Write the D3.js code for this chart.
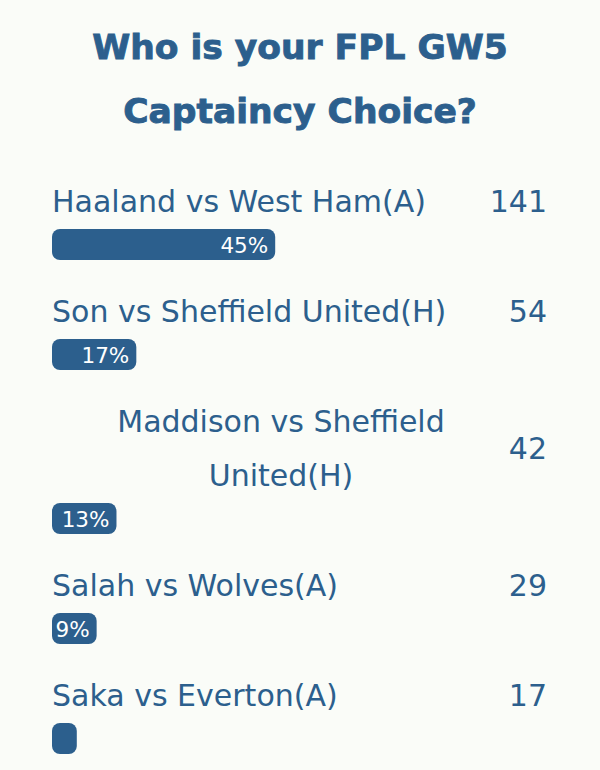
<!DOCTYPE html>
<html><head><meta charset="utf-8">
<script src="https://cdn.jsdelivr.net/npm/d3@7"></script>
<style>
body{margin:0;background:#fafcf8}
text{font-family:"DejaVu Sans","Open Sans",sans-serif;fill:#2c5f8d}
</style>
</head><body><svg id="chart" width="600" height="770"></svg>
<script>
// poll data
var titleLines = ["Who is your FPL GW5", "Captaincy Choice?"];
var options = ["Haaland vs West Ham(A)", "Son vs Sheffield United(H)", "Maddison vs Sheffield United(H)", "Salah vs Wolves(A)", "Saka vs Everton(A)"];
var votes = [141, 54, 42, 29, 17];
var percents = [45, 17, 13, 9, 5];

var colour = "#2c5f8d";
var left = 52, right = 547, labelWidth = 458;
var lineH = 54, rowPitch = 110, barH = 31;

var svg = d3.select("#chart");

svg.selectAll("text.title")
  .data(titleLines)
  .enter().append("text")
  .attr("class", "title")
  .attr("x", 300)
  .attr("y", function(d, i) { return 59 + i * 64; })
  .attr("text-anchor", "middle")
  .attr("font-size", 34.5)
  .attr("font-weight", 700)
  .style("stroke", colour)
  .style("stroke-width", 0.9)
  .text(function(d) { return d; });

var x = d3.scaleLinear().domain([0, 100]).range([0, right - left + 1]);

// split a label into lines that fit the label column
function wrap(str) {
  var probe = svg.append("text").attr("font-size", 30).attr("y", -200);
  var words = str.split(" "), lines = [], cur = "";
  words.forEach(function(w) {
    var test = cur ? cur + " " + w : w;
    probe.text(test);
    if (probe.node().getComputedTextLength() > labelWidth && cur) {
      lines.push(cur);
      cur = w;
    } else cur = test;
  });
  lines.push(cur);
  probe.remove();
  return lines;
}

var y = 212;
options.forEach(function(opt, i) {
  var lines = wrap(opt);
  var g = svg.append("g");
  var multi = lines.length > 1;

  g.selectAll("text.label")
    .data(lines)
    .enter().append("text")
    .attr("class", "label")
    .attr("x", multi ? left + labelWidth / 2 : left)
    .attr("y", function(d, j) { return y + j * lineH; })
    .attr("text-anchor", multi ? "middle" : "start")
    .attr("font-size", 30)
    .text(function(d) { return d; });

  g.append("text")
    .attr("x", right)
    .attr("y", y + (lines.length - 1) * lineH / 2)
    .attr("text-anchor", "end")
    .attr("font-size", 30)
    .text(votes[i]);

  var barTop = y + (lines.length - 1) * lineH + 17;
  var w = x(percents[i]);
  g.append("rect")
    .attr("x", left)
    .attr("y", barTop)
    .attr("width", w)
    .attr("height", barH)
    .attr("rx", 8)
    .attr("fill", colour);

  var pct = g.append("text")
    .attr("x", left + w - 7)
    .attr("y", barTop + 23.5)
    .attr("text-anchor", "end")
    .attr("font-size", 21.5)
    .style("fill", "#ffffff")
    .text(percents[i] + "%");
  if (pct.node().getComputedTextLength() + 10 > w) pct.remove();

  y = barTop + rowPitch - 17;
});
</script></body></html>
